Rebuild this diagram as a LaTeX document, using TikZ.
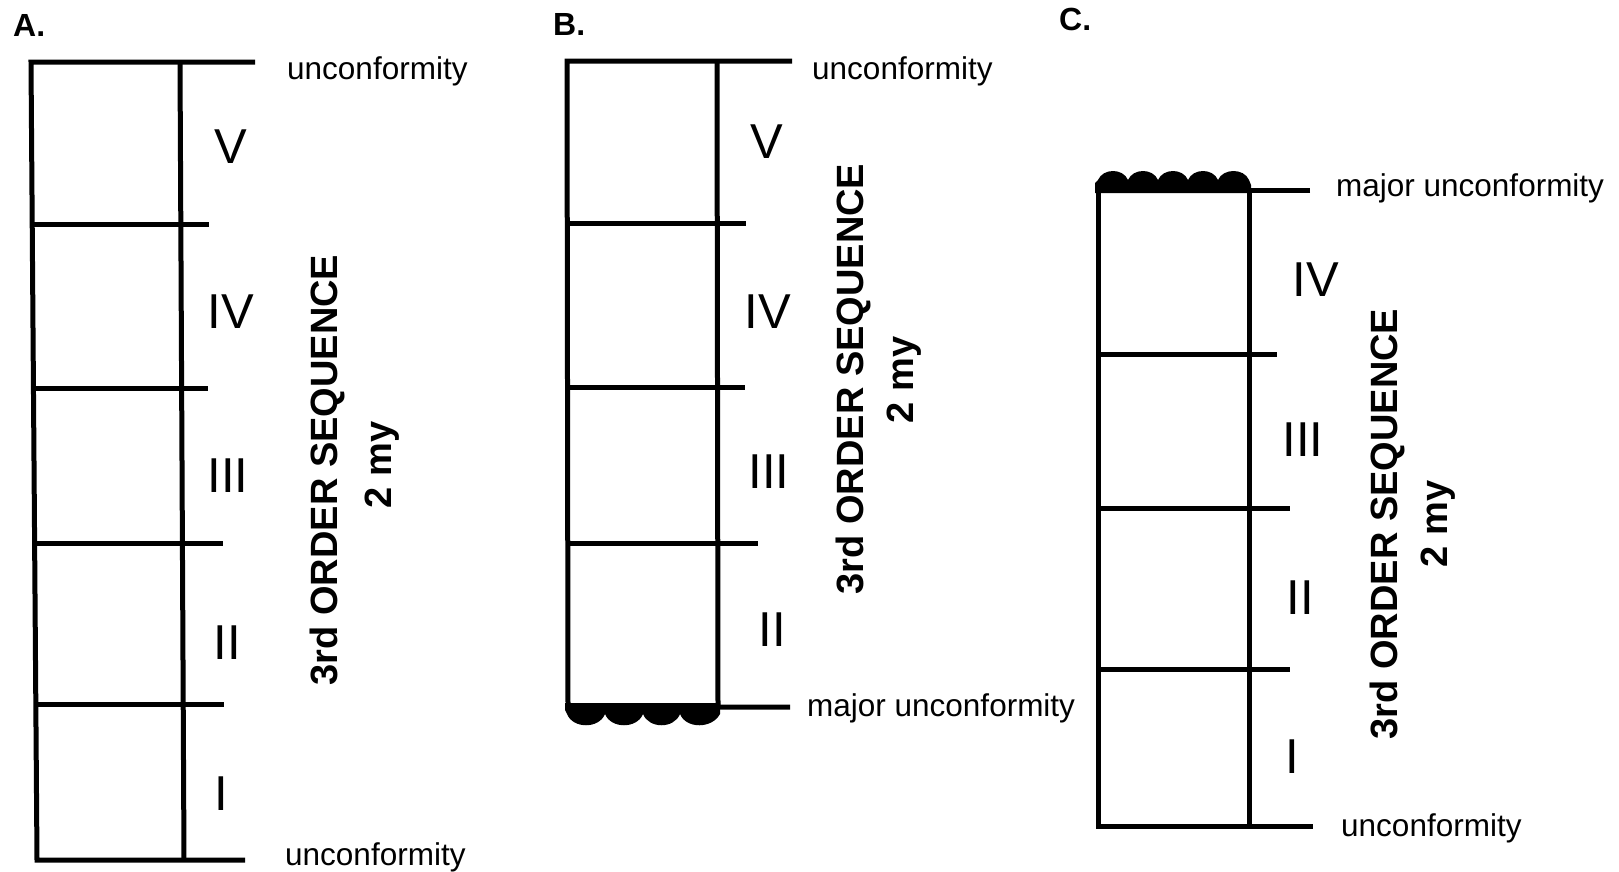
\documentclass[tikz,border=0pt]{standalone}
\usepackage{fontspec}
\setmainfont{Liberation Sans}
\begin{document}
\begin{tikzpicture}[x=1pt,y=-1pt,
  strat/.style={line width=5pt},
  unitlbl/.style={font=\fontsize{49}{55}\selectfont, inner sep=0pt, anchor=center},
  surf/.style={font=\fontsize{31.5}{36}\selectfont, inner sep=0pt, anchor=base west},
  seq/.style={font=\bfseries\fontsize{38}{44}\selectfont, inner sep=0pt, anchor=base, rotate=90},
  panel/.style={font=\bfseries\fontsize{32}{36}\selectfont, inner sep=0pt, anchor=base west}]
\useasboundingbox (0,0) rectangle (1619,871);
\fill[white] (0,0) rectangle (1619,871);

% ---------------- Column A ----------------
\node[panel] (pA) at (13,36) {A.};
\draw[strat] (255,62) -- (31,62) -- (37,860) -- (245,860);
\draw[strat] (180,62) -- (184,860);
\draw[strat] (32.2,224) -- (209,224);
\draw[strat] (33.5,388) -- (208,388);
\draw[strat] (34.6,543) -- (223,543);
\draw[strat] (35.8,704) -- (224,704);
\node[surf] (aTop) at (287,79) {unconformity};
\node[surf] (aBot) at (285,865) {unconformity};
\node[unitlbl] (aV)   at (231,147) {V};
\node[unitlbl] (aIV)  at (231,312) {IV};
\node[unitlbl] (aIII) at (228,476) {III};
\node[unitlbl] (aII)  at (227,643) {II};
\node[unitlbl] (aI)   at (221,794) {I};
\node[seq] (aSeq) at (337,470) {3rd ORDER SEQUENCE};
\node[seq] (aMy)  at (391,465) {2 my};

% ---------------- Column B ----------------
\node[panel] (pB) at (553,35) {B.};
\fill (565,703) -- (720,703) -- (720,714)
  .. controls (712,729) and (686,729) .. (680,714)
  .. controls (674,729) and (649,729) .. (643,714)
  .. controls (637,729) and (611,729) .. (605,714)
  .. controls (599,729) and (573,729) .. (567,714)
  -- (565,710) -- cycle;
\draw[strat] (792,61) -- (567,61) -- (568,707) -- (790,707);
\draw[strat] (717,61) -- (718,707);
\draw[strat] (567,223) -- (746,223);
\draw[strat] (567,387) -- (745,387);
\draw[strat] (567,543) -- (758,543);
\node[surf] (bTop) at (812,79) {unconformity};
\node[surf] (bBot) at (807,716) {major unconformity};
\node[unitlbl] (bV)   at (767,142) {V};
\node[unitlbl] (bIV)  at (768,312) {IV};
\node[unitlbl] (bIII) at (769,472) {III};
\node[unitlbl] (bII)  at (772,630) {II};
\node[seq] (bSeq) at (863,379) {3rd ORDER SEQUENCE};
\node[seq] (bMy)  at (913,380) {2 my};

% ---------------- Column C ----------------
\node[panel] (pC) at (1059,30) {C.};
\fill (1095,193) -- (1095,183) -- (1098,180)
  .. controls (1103,168) and (1123,168) .. (1128,180)
  .. controls (1133,168) and (1153,168) .. (1158,180)
  .. controls (1163,168) and (1183,168) .. (1188,180)
  .. controls (1193,168) and (1213,168) .. (1218,180)
  .. controls (1223,168) and (1244,168) .. (1249,180)
  -- (1251,185) -- (1251,193) -- cycle;
\draw[strat] (1310,190) -- (1098,190) -- (1098,826) -- (1313,826);
\draw[strat] (1249,190) -- (1249,826);
\draw[strat] (1098,354) -- (1277,354);
\draw[strat] (1098,508) -- (1290,508);
\draw[strat] (1098,669) -- (1290,669);
\node[surf] (cTop) at (1336,196) {major unconformity};
\node[surf] (cBot) at (1341,836) {unconformity};
\node[unitlbl] (cIV)  at (1316,280) {IV};
\node[unitlbl] (cIII) at (1303,440) {III};
\node[unitlbl] (cII)  at (1300,598) {II};
\node[unitlbl] (cI)   at (1292,757) {I};
\node[seq] (cSeq) at (1397,524) {3rd ORDER SEQUENCE};
\node[seq] (cMy)  at (1447,524) {2 my};
\end{tikzpicture}
\end{document}
